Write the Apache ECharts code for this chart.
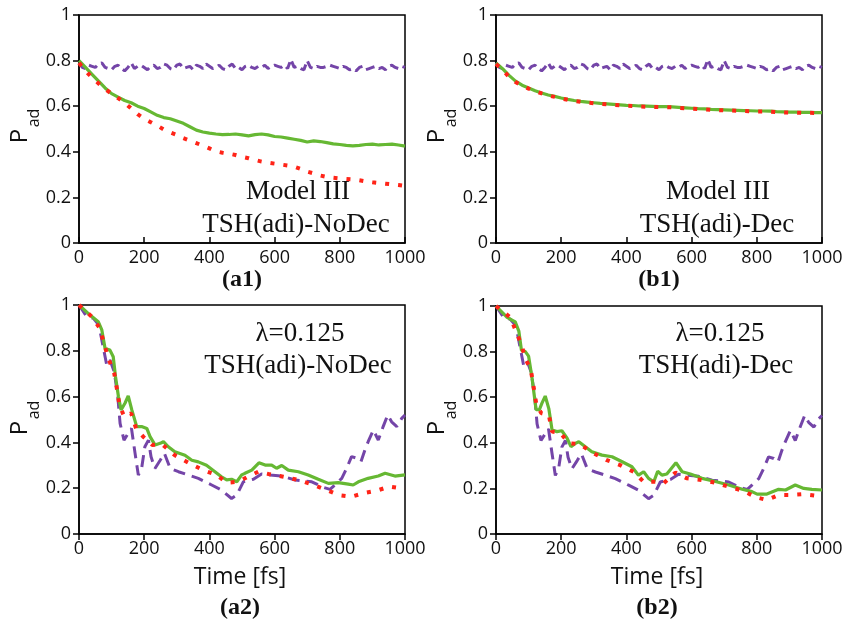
<!DOCTYPE html>
<html>
<head>
<meta charset="utf-8">
<script src="https://cdn.jsdelivr.net/npm/echarts@6/dist/echarts.min.js"></script>
<style>
html,body{margin:0;padding:0;background:#fff;}
#chart{width:847px;height:628px;}
</style>
</head>
<body>
<div id="chart"></div>
<script>
// ---------- data (time in fs, P_ad) ----------
const xTicks = [0, 200, 400, 600, 800, 1000];
const yTicks = [0, 0.2, 0.4, 0.6, 0.8, 1];

// upper panels: purple dashed (same in a1 and b1)
const purpleTop = [
[0,0.79],[10,0.77],[20,0.765],[30,0.78],[40,0.775],[50,0.77],[60,0.785],[70,0.79],[80,0.77],[90,0.765],
[100,0.76],[110,0.775],[120,0.78],[130,0.765],[140,0.755],[150,0.77],[160,0.79],[170,0.765],[180,0.775],[190,0.78],
[200,0.77],[210,0.76],[220,0.775],[230,0.78],[240,0.765],[250,0.77],[260,0.785],[270,0.78],[280,0.765],[290,0.76],
[300,0.78],[310,0.785],[320,0.765],[330,0.77],[340,0.775],[350,0.76],[360,0.78],[370,0.775],[380,0.765],[390,0.785],
[400,0.775],[410,0.765],[420,0.77],[430,0.78],[440,0.765],[450,0.76],[460,0.775],[470,0.785],[480,0.765],[490,0.77],
[500,0.76],[510,0.775],[520,0.78],[530,0.77],[540,0.765],[550,0.775],[560,0.77],[570,0.78],[580,0.765],[590,0.775],
[600,0.78],[610,0.775],[620,0.77],[630,0.78],[640,0.765],[650,0.805],[660,0.77],[670,0.775],[680,0.765],[690,0.76],
[700,0.80],[710,0.77],[720,0.765],[730,0.775],[740,0.77],[750,0.77],[760,0.775],[770,0.78],[780,0.775],[790,0.77],
[800,0.765],[810,0.775],[820,0.77],[830,0.76],[840,0.765],[850,0.755],[860,0.77],[870,0.775],[880,0.76],[890,0.765],
[900,0.77],[910,0.775],[920,0.765],[930,0.77],[940,0.76],[950,0.775],[960,0.78],[970,0.77],[980,0.765],[990,0.775],[1000,0.77]];

const a1Green = [[0,0.80],[20,0.77],[40,0.74],[60,0.71],[80,0.68],[100,0.655],[120,0.64],[140,0.625],[160,0.615],[180,0.60],
[200,0.59],[220,0.575],[240,0.56],[260,0.55],[280,0.545],[300,0.535],[320,0.525],[340,0.51],[360,0.495],[380,0.487],
[400,0.482],[420,0.478],[440,0.475],[460,0.476],[480,0.478],[500,0.474],[520,0.47],[540,0.475],[560,0.478],[580,0.474],
[600,0.467],[620,0.465],[640,0.46],[660,0.455],[680,0.45],[700,0.443],[720,0.448],[740,0.445],[760,0.44],[780,0.435],
[800,0.432],[820,0.428],[840,0.426],[860,0.428],[880,0.432],[900,0.434],[920,0.43],[940,0.432],[960,0.434],[980,0.43],[1000,0.425]];

const a1Red = [[0,0.79],[20,0.755],[40,0.725],[60,0.70],[80,0.675],[100,0.655],[120,0.635],[140,0.615],[160,0.59],[180,0.565],
[200,0.545],[220,0.53],[240,0.515],[260,0.498],[280,0.485],[300,0.474],[320,0.46],[340,0.449],[360,0.438],[380,0.427],
[400,0.415],[420,0.402],[440,0.396],[460,0.392],[480,0.386],[500,0.378],[520,0.372],[540,0.364],[560,0.357],[580,0.352],
[600,0.348],[620,0.344],[640,0.34],[660,0.335],[680,0.325],[700,0.313],[720,0.305],[740,0.296],[760,0.29],[780,0.286],
[800,0.283],[820,0.281],[840,0.279],[860,0.275],[880,0.27],[900,0.266],[920,0.263],[940,0.26],[960,0.257],[980,0.254],[1000,0.25]];

const b1Green = [[0,0.79],[20,0.765],[40,0.735],[60,0.71],[80,0.692],[100,0.68],[120,0.668],[140,0.658],[160,0.649],[180,0.643],
[200,0.636],[220,0.63],[240,0.625],[260,0.621],[280,0.618],[300,0.615],[320,0.612],[340,0.61],[360,0.608],[380,0.606],
[400,0.604],[420,0.603],[440,0.601],[460,0.6],[480,0.599],[500,0.598],[520,0.598],[540,0.597],[560,0.595],[580,0.593],
[600,0.591],[620,0.589],[640,0.588],[660,0.586],[680,0.585],[700,0.584],[720,0.583],[740,0.582],[760,0.581],[780,0.58],
[800,0.579],[820,0.579],[840,0.578],[860,0.576],[880,0.575],[900,0.574],[920,0.574],[940,0.573],[960,0.573],[980,0.572],[1000,0.572]];

const b1Red = [[0,0.785],[20,0.76],[40,0.728],[60,0.706],[80,0.69],[100,0.677],[120,0.666],[140,0.656],[160,0.647],[180,0.641],
[200,0.634],[220,0.628],[240,0.623],[260,0.619],[280,0.616],[300,0.613],[320,0.61],[340,0.608],[360,0.606],[380,0.604],
[400,0.602],[420,0.601],[440,0.599],[460,0.598],[480,0.597],[500,0.596],[520,0.596],[540,0.595],[560,0.593],[580,0.591],
[600,0.589],[620,0.587],[640,0.586],[660,0.584],[680,0.583],[700,0.582],[720,0.581],[740,0.58],[760,0.579],[780,0.578],
[800,0.577],[820,0.577],[840,0.576],[860,0.574],[880,0.573],[900,0.572],[920,0.572],[940,0.571],[960,0.571],[980,0.57],[1000,0.57]];

// lower panels: purple dashed (same in a2 and b2)
const purpleBot = [[0,1.0],[23,0.95],[44,0.942],[61,0.913],[71,0.84],[85,0.738],[95,0.76],[108,0.709],[119,0.6],[126,0.483],
[138,0.41],[151,0.44],[161,0.461],[172,0.352],[182,0.257],[192,0.286],[202,0.381],[213,0.41],[221,0.337],[233,0.286],
[249,0.322],[262,0.352],[280,0.286],[305,0.272],[335,0.258],[366,0.243],[387,0.228],[407,0.214],[437,0.192],[468,0.155],
[484,0.17],[504,0.228],[535,0.239],[560,0.262],[586,0.258],[622,0.253],[663,0.236],[714,0.228],[749,0.204],[770,0.195],
[785,0.214],[806,0.243],[821,0.287],[836,0.338],[852,0.331],[865,0.316],[877,0.367],[887,0.403],[903,0.454],[918,0.41],
[933,0.469],[947,0.52],[959,0.49],[975,0.469],[990,0.505],[1000,0.52]];

const a2Green = [[0,1.0],[34,0.956],[59,0.927],[70,0.891],[80,0.81],[95,0.803],[105,0.774],[112,0.687],[121,0.6],[129,0.542],
[141,0.571],[151,0.603],[162,0.542],[177,0.469],[192,0.469],[208,0.461],[218,0.425],[233,0.389],[249,0.396],[259,0.403],
[274,0.381],[294,0.359],[325,0.344],[346,0.322],[366,0.315],[391,0.3],[417,0.272],[437,0.25],[453,0.236],[468,0.239],
[484,0.228],[499,0.258],[509,0.265],[530,0.279],[552,0.311],[571,0.301],[591,0.301],[606,0.287],[622,0.299],[642,0.279],
[673,0.272],[703,0.258],[734,0.239],[765,0.221],[795,0.224],[826,0.218],[841,0.214],[857,0.228],[887,0.243],[918,0.253],
[939,0.265],[969,0.253],[1000,0.258]];

const a2Red = [[0,1.0],[39,0.949],[64,0.898],[78,0.825],[90,0.767],[108,0.702],[116,0.636],[124,0.563],[139,0.512],[160,0.527],
[175,0.461],[197,0.425],[225,0.389],[254,0.393],[294,0.344],[340,0.308],[381,0.279],[422,0.258],[453,0.224],[489,0.228],
[514,0.247],[550,0.272],[581,0.262],[627,0.25],[673,0.236],[714,0.217],[760,0.192],[797,0.17],[836,0.163],[872,0.178],
[913,0.189],[951,0.207],[990,0.199],[1000,0.2]];

const b2Green = [[0,1.0],[34,0.95],[59,0.93],[70,0.89],[78,0.806],[90,0.80],[100,0.78],[110,0.69],[123,0.545],[133,0.545],
[141,0.574],[151,0.605],[162,0.55],[172,0.456],[187,0.449],[202,0.453],[218,0.42],[230,0.383],[241,0.395],[254,0.405],
[274,0.383],[294,0.361],[325,0.346],[356,0.339],[387,0.317],[417,0.295],[437,0.258],[453,0.273],[468,0.244],[484,0.229],
[496,0.275],[509,0.258],[524,0.263],[552,0.313],[571,0.273],[596,0.263],[632,0.244],[673,0.23],[714,0.215],[755,0.196],
[785,0.186],[801,0.175],[831,0.175],[867,0.196],[888,0.193],[918,0.215],[944,0.2],[969,0.196],[1000,0.193]];

const b2Red = [[0,1.0],[44,0.95],[78,0.83],[90,0.77],[100,0.74],[108,0.71],[116,0.64],[124,0.566],[139,0.53],[162,0.522],
[172,0.449],[197,0.445],[223,0.398],[256,0.395],[294,0.358],[340,0.324],[381,0.302],[422,0.273],[453,0.229],[489,0.229],
[514,0.222],[550,0.269],[586,0.244],[630,0.237],[673,0.225],[719,0.205],[757,0.19],[798,0.161],[831,0.149],[867,0.171],
[903,0.171],[944,0.175],[988,0.167],[1000,0.167]];

const panelLabels = ['(a1)', '(b1)', '(a2)', '(b2)'];
const annotations = [
  ['Model III', 'TSH(adi)-NoDec'],
  ['Model III', 'TSH(adi)-Dec'],
  ['\u03bb=0.125', 'TSH(adi)-NoDec'],
  ['\u03bb=0.125', 'TSH(adi)-Dec']
];
const xTitle = 'Time [fs]';

// ---------- styling / layout ----------
const GREEN = '#66b833', RED = '#ff2418', PURPLE = '#7445a8';
const SANS = '"Open Sans", "Noto Sans", sans-serif';
const SERIF = '"Liberation Serif", "DejaVu Serif", serif';

const grids = [
  {left: 79, top: 15, width: 326, height: 228},
  {left: 496, top: 15, width: 326, height: 228},
  {left: 79, top: 305, width: 326, height: 229},
  {left: 496, top: 306, width: 326, height: 228}
];

const chart = echarts.init(document.getElementById('chart'), null, {renderer: 'canvas'});

const gridOpts = grids.map(g => Object.assign({
  show: true, borderColor: '#000', borderWidth: 1.5, backgroundColor: 'transparent', containLabel: false
}, g));

const xAxes = grids.map((g, i) => ({
  type: 'value', gridIndex: i, min: xTicks[0], max: xTicks[xTicks.length - 1], interval: xTicks[1] - xTicks[0],
  axisLine: {show: true, onZero: false, lineStyle: {color: '#000', width: 1.5}},
  axisTick: {show: true, inside: i < 2, length: 6, lineStyle: {color: '#000', width: 1.5}},
  axisLabel: {color: '#111', fontFamily: SANS, fontSize: 18, margin: 6, formatter: v => String(v)},
  splitLine: {show: false}
}));

const yAxes = grids.map((g, i) => ({
  type: 'value', gridIndex: i, min: yTicks[0], max: yTicks[yTicks.length - 1], interval: yTicks[1] - yTicks[0],
  axisLine: {show: true, onZero: false, lineStyle: {color: '#000', width: 1.5}},
  axisTick: {show: true, inside: false, length: 6, lineStyle: {color: '#000', width: 1.5}},
  axisLabel: {color: '#111', fontFamily: SANS, fontSize: 18, margin: 8, formatter: v => String(v)},
  splitLine: {show: false}
}));

function line(data, idx, kind) {
  const base = {type: 'line', data: data, xAxisIndex: idx, yAxisIndex: idx, showSymbol: false, symbol: 'none',
    animation: false, silent: true};
  if (kind === 'g') base.lineStyle = {color: GREEN, width: 3.2};
  if (kind === 'r') base.lineStyle = {color: RED, width: 4, type: [4, 9], cap: 'butt'};
  if (kind === 'p') base.lineStyle = {color: PURPLE, width: 3, type: [9, 5], cap: 'butt'};
  if (kind === 'pl') base.lineStyle = {color: PURPLE, width: 3, type: [12, 7], cap: 'butt'};
  base.itemStyle = {color: base.lineStyle.color};
  return base;
}

const series = [
  line(purpleTop, 0, 'p'), line(a1Green, 0, 'g'), line(a1Red, 0, 'r'),
  line(purpleTop, 1, 'p'), line(b1Green, 1, 'g'), line(b1Red, 1, 'r'),
  line(purpleBot, 2, 'pl'), line(a2Green, 2, 'g'), line(a2Red, 2, 'r'),
  line(purpleBot, 3, 'pl'), line(b2Green, 3, 'g'), line(b2Red, 3, 'r')
];

// text graphics
const graphics = [];
function txt(x, y, text, font, size, weight, rot) {
  graphics.push({type: 'text', x: x, y: y, rotation: rot || 0, silent: true,
    style: {text: text, fontFamily: font, fontSize: size, fontWeight: weight || 'normal', fill: '#111',
      align: 'center', verticalAlign: 'middle'}});
}
const labelPos = [[242, 280], [659, 280], [240, 608], [657, 608]];
labelPos.forEach((p, i) => txt(p[0], p[1], panelLabels[i], SERIF, 24, 'bold'));
const annPos = [[[298, 192], [296, 225]], [[718, 192], [717, 225]], [[300, 334], [298, 366]], [[720, 334], [716, 366]]];
annPos.forEach((pp, i) => {
  txt(pp[0][0], pp[0][1], annotations[i][0], SERIF, 27, 'normal');
  txt(pp[1][0], pp[1][1], annotations[i][1], SERIF, 27, 'normal');
});
txt(240, 577, xTitle, SANS, 23, 'normal');
txt(657, 577, xTitle, SANS, 23, 'normal');
// P_ad axis titles (rotated)
const padPos = [[20, 128], [437, 128], [20, 420], [437, 420]];
padPos.forEach(p => {
  txt(p[0], p[1] + 8, 'P', SANS, 24, 'normal', Math.PI / 2);
  txt(p[0] + 14, p[1] - 10, 'ad', SANS, 16, 'normal', Math.PI / 2);
});

chart.setOption({
  animation: false,
  backgroundColor: '#fff',
  grid: gridOpts,
  xAxis: xAxes,
  yAxis: yAxes,
  series: series,
  graphic: graphics
});
</script>
</body>
</html>
